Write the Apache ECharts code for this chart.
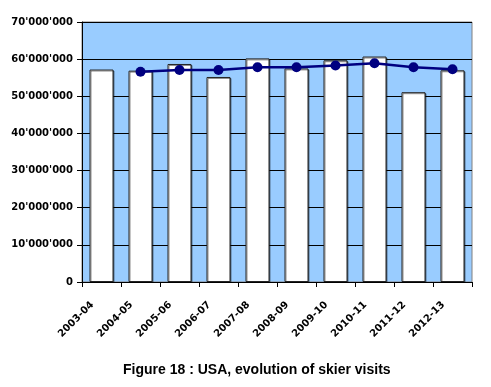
<!DOCTYPE html>
<html><head><meta charset="utf-8">
<script src="https://cdn.jsdelivr.net/npm/echarts@6/dist/echarts.min.js"></script>
<style>html,body{margin:0;padding:0;background:#fff}#c{width:491px;height:387px}</style>
</head><body><div id="c"></div>
<script>
var categories = ['2003-04','2004-05','2005-06','2006-07','2007-08','2008-09','2009-10','2010-11','2011-12','2012-13'];
var skierVisits = [57200000,56900000,58700000,55200000,60200000,57500000,59700000,60700000,51100000,57000000];
var averageVisits = [null,56600000,57100000,57100000,57800000,57800000,58300000,58900000,57800000,57300000];
var yTickLabels = ['0',"10'000'000","20'000'000","30'000'000","40'000'000","50'000'000","60'000'000","70'000'000"];
var titleText = 'Figure 18 : USA, evolution of skier visits';

var chart = echarts.init(document.getElementById('c'), null, {renderer:'canvas'});
chart.setOption({
  animation:false,
  title:{text:titleText,left:118,top:358,textStyle:{fontFamily:'Liberation Sans',fontWeight:'bold',fontSize:14,color:'#000'}},
  grid:{left:82,right:19,top:22,bottom:105,show:true,backgroundColor:'#99ccff',borderColor:'#808080',borderWidth:1},
  xAxis:{type:'category',data:categories,boundaryGap:true,
    axisLine:{lineStyle:{color:'#000',width:1}},
    axisTick:{show:true,length:5,lineStyle:{color:'#000'}},
    axisLabel:{rotate:45,margin:12,padding:[0,13,0,0],interval:0,fontFamily:'DejaVu Sans',fontWeight:'bold',fontSize:10,color:'#000'}},
  yAxis:{type:'value',min:0,max:70000000,interval:10000000,
    axisLine:{show:true,lineStyle:{color:'#000',width:1}},
    axisTick:{show:true,length:5,lineStyle:{color:'#000'}},
    splitLine:{show:true,lineStyle:{color:'#000',width:1}},
    axisLabel:{margin:9,fontFamily:'DejaVu Sans',fontWeight:'bold',fontSize:10,color:'#000',
      formatter:function(v){return yTickLabels[Math.round(v/10000000)];}}},
  series:[
    {type:'bar',data:skierVisits,barWidth:24,itemStyle:{color:'#fff',borderColor:'#222',borderWidth:1,shadowColor:'rgba(0,0,0,0.45)',shadowOffsetX:1,shadowOffsetY:1,shadowBlur:0}},
    {type:'line',data:averageVisits,connectNulls:false,symbol:'circle',symbolSize:10,
      lineStyle:{color:'#000080',width:2.5},itemStyle:{color:'#000080'},z:5}
  ]
});
</script></body></html>
